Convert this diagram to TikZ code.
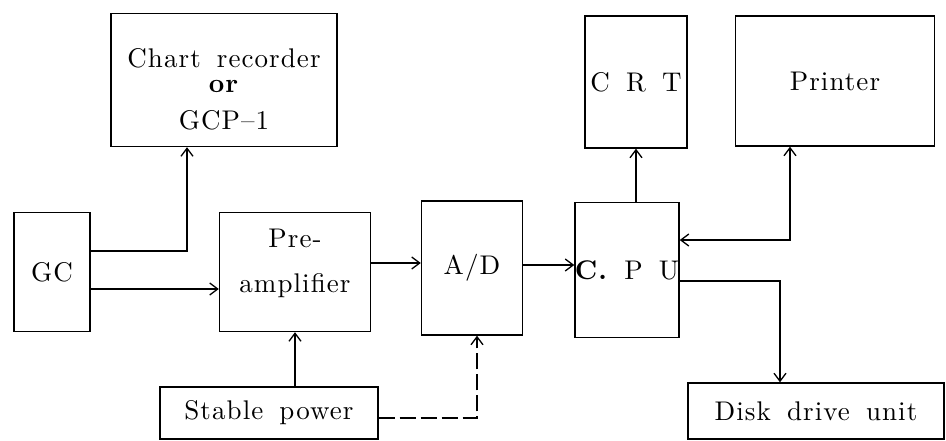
\documentclass[tikz,border=0pt]{standalone}
\usepackage{fontspec}
\newfontfamily\boxfont{lmroman10-regular.otf}[BoldFont=lmroman10-bold.otf,
  LetterSpace=4,WordSpace=1.6]
\usetikzlibrary{arrows.meta}

\begin{document}
\begin{tikzpicture}[x=1pt,y=-1pt,>={Straight Barb[length=8pt,width=12pt]},
  unit/.style={draw,line width=1.4pt,align=center,inner sep=0pt,
    font=\boxfont\fontsize{27}{30}\selectfont},
  link/.style={line width=1.3pt,->},
  duplex/.style={line width=1.3pt,<->}]
\useasboundingbox (0,0) rectangle (946,440);
\node[unit,minimum width=226pt,minimum height=133pt] (chart) at (224,80)
  {\rule{0pt}{38pt}Chart recorder\\[-5pt]\textbf{or}\\[7pt]GCP\textendash1};
\node[unit,minimum width=102pt,minimum height=132pt] (crt) at (636,82) {C R T};
\node[unit,minimum width=199pt,minimum height=130pt] (printer) at (835,81) {Printer};
\node[unit,minimum width=76pt,minimum height=119pt] (gc) at (52,272) {GC};
\node[unit,minimum width=151pt,minimum height=119pt] (pre) at (295,272)
  {Pre-\\[15pt]amplifier\rule[-23pt]{0pt}{1pt}};
\node[unit,minimum width=101pt,minimum height=134pt] (ad) at (472,268) {A/D};
\node[unit,minimum width=101pt,minimum height=135pt] (cpu) at (627,270)
  {\textbf{C.} P U};
\node[unit,minimum width=218pt,minimum height=52pt] (power) at (269,413) {Stable power};
\node[unit,minimum width=256pt,minimum height=56pt] (disk) at (816,411) {Disk drive unit};

\draw[link] ([yshift=21pt]gc.east) -| ([xshift=-37pt]chart.south);
\draw[link] ([yshift=-17pt]gc.east) -- ([yshift=-17pt]gc.east -| pre.west);
\draw[link] ([yshift=9pt]pre.east) -- ([yshift=9pt]pre.east -| ad.west);
\draw[link] ([yshift=3pt]ad.east) -- ([yshift=3pt]ad.east -| cpu.west);
\draw[link] (pre.south |- power.north) -- (pre.south);
\draw[link,dash pattern=on 16pt off 5pt] ([yshift=-5pt]power.east) -| ([xshift=5pt]ad.south);
\draw[link] (crt.south |- cpu.north) -- (crt.south);
\draw[duplex] ([yshift=30pt]cpu.east) -| ([xshift=-45pt]printer.south);
\draw[link] ([yshift=-11pt]cpu.east) -| ([xshift=-36pt]disk.north);
\end{tikzpicture}
\end{document}
